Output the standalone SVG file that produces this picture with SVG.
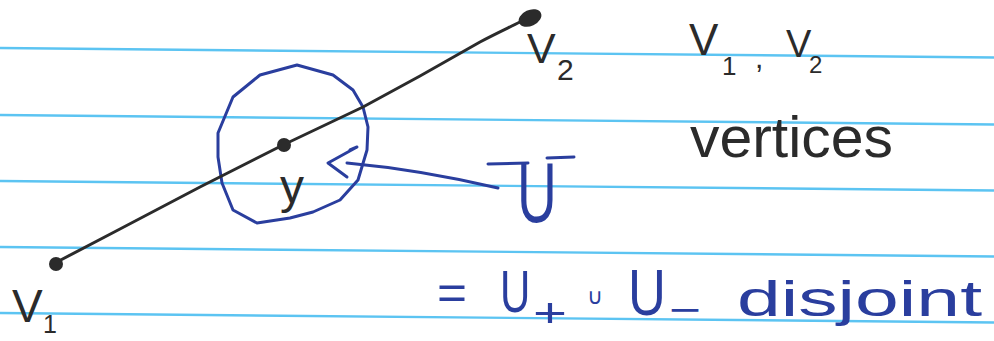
<svg xmlns="http://www.w3.org/2000/svg" width="994" height="341" viewBox="0 0 994 341">
  <style>
    .rule { stroke: #5cc4f2; stroke-width: 2.4; fill: none; }
    .ink { stroke: #2b2b2b; stroke-width: 3; fill: none; stroke-linecap: round; stroke-linejoin: round; }
    .blue { stroke: #2a3e9e; stroke-width: 3; fill: none; stroke-linecap: round; stroke-linejoin: round; }
    .tk { fill: #2b2b2b; font-family: "Liberation Sans", "DejaVu Sans", sans-serif; }
    .tb { fill: #2a3e9e; font-family: "Liberation Sans", "DejaVu Sans", sans-serif; }
  </style>
  <rect width="994" height="341" fill="#ffffff"/>
  <g id="ruled-lines">
    <line class="rule" x1="0" y1="48" x2="994" y2="57.5"/>
    <line class="rule" x1="0" y1="115" x2="994" y2="124.5"/>
    <line class="rule" x1="0" y1="181" x2="994" y2="190.5"/>
    <line class="rule" x1="0" y1="247" x2="994" y2="256.5"/>
    <line class="rule" x1="0" y1="313" x2="994" y2="322.5"/>
  </g>
  <g id="neighbourhood-U">
    <path class="blue" d="M218,133 L233,97 L260,75 L297,65 L333,75 L353,90 L363,107 L368,127 L367,150 L358,180 L340,200 L313,212 L290,218 L257,223 L233,210 L222,183 L218,157 Z"/>
  </g>
  <g id="connectors">
    <path id="segment-v1-v2" class="ink" d="M55,263 L120,229 L200,187 L283,145 L363,107 L420,76 L480,42 C495,34 508,28 520,22"/>
    <path id="arrow-U" class="blue" d="M347,163 C380,166 430,172 498,188"/>
    <path class="blue" d="M350,150 L357,147 L328,163 L347,177"/>
  </g>
  <g id="vertex-v1">
    <circle cx="56" cy="264" r="7" fill="#2b2b2b"/>
    <text class="tk" x="12" y="322" font-size="46">V<tspan x="43" y="333" font-size="25">1</tspan></text>
  </g>
  <g id="point-y">
    <circle cx="284" cy="145" r="7" fill="#2b2b2b"/>
    <text class="tk" x="280" y="203" font-size="48">y</text>
  </g>
  <g id="vertex-v2">
    <ellipse cx="530" cy="18" rx="12" ry="8" transform="rotate(-25 530 18)" fill="#2b2b2b"/>
    <text class="tk" x="527" y="63" font-size="43">V<tspan x="557" y="80" font-size="30">2</tspan></text>
  </g>
  <g id="label-vertices">
    <text class="tk" x="689" y="55" font-size="44">V<tspan x="722" y="75" font-size="26">1</tspan><tspan x="755" y="68" font-size="30">,</tspan><tspan x="786" y="57" font-size="38">V</tspan><tspan x="809" y="73" font-size="24">2</tspan></text>
    <text class="tk" x="690" y="157" font-size="58" textLength="203" lengthAdjust="spacingAndGlyphs">vertices</text>
  </g>
  <g id="label-U">
    <text class="tb" transform="translate(517,222) scale(0.64,1)" font-size="86">U</text>
    <path class="blue" d="M488,164 L528,163 M547,158 L574,157"/>
  </g>
  <g id="label-decomposition">
    <text class="tb" x="437" y="309" font-size="48" textLength="30" lengthAdjust="spacingAndGlyphs">=</text>
    <text class="tb" transform="translate(500,312) scale(0.7,1)" font-size="60">U</text>
    <text class="tb" x="533" y="327" font-size="40" textLength="34" lengthAdjust="spacingAndGlyphs">+</text>
    <text class="tb" x="587" y="304" font-size="22">∪</text>
    <text class="tb" transform="translate(628,315) scale(0.82,1)" font-size="64">U</text>
    <text class="tb" x="669" y="323" font-size="38" textLength="32" lengthAdjust="spacingAndGlyphs">−</text>
    <text class="tb" x="737" y="316" font-size="50" textLength="245" lengthAdjust="spacingAndGlyphs">disjoint</text>
  </g>
</svg>
